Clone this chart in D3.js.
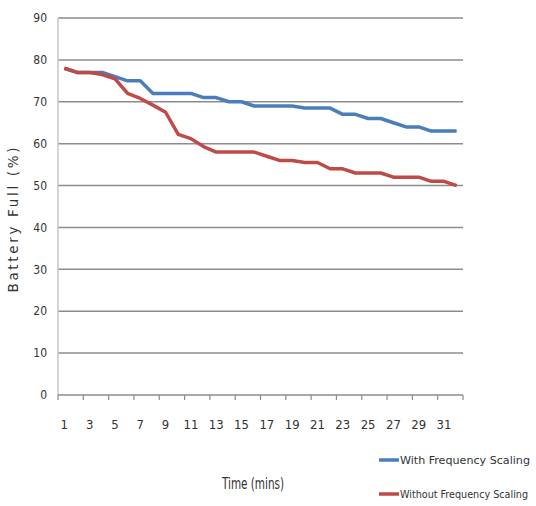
<!DOCTYPE html>
<html><head><meta charset="utf-8">
<script src="https://cdn.jsdelivr.net/npm/d3@7"></script>
<style>body{margin:0;background:#fff} text.n{font-stretch:condensed}</style>
</head><body>
<svg id="c" width="536" height="506"></svg>
<script>
const categories = d3.range(1, 33);
const withScaling = [78,77,77,77,76,75,75,72,72,72,72,71,71,70,70,69,69,69,69,68.5,68.5,68.5,67,67,66,66,65,64,64,63,63,63];
const withoutScaling = [78,77,77,76.5,75.5,72,70.8,69.2,67.5,62.2,61.2,59.3,58,58,58,58,57,56,56,55.5,55.5,54,54,53,53,53,52,52,52,51,51,50];
const yTicks = [0,10,20,30,40,50,60,70,80,90];
const xTickLabels = categories.filter(c => c % 2 === 1);
const seriesNames = ["With Frequency Scaling", "Without Frequency Scaling"];
const colors = ["#4a7ebb", "#be4b48"];

const svg = d3.select("#c");
const x = d3.scaleBand().domain(categories).range([58, 463]);
const y = d3.scaleLinear().domain([0, 90]).range([395, 18]);
const cx = c => x(c) + x.bandwidth() / 2;
const narrow = "'DejaVu Sans Condensed','DejaVu Sans',sans-serif";

// gridlines
svg.append("g").selectAll("line").data(yTicks.filter(t => t > 0)).join("line")
  .attr("x1", 58).attr("x2", 463).attr("y1", d => y(d)).attr("y2", d => y(d))
  .attr("stroke", "#8c8c8c").attr("stroke-width", 1.5);

// y axis line
svg.append("line").attr("x1", 58).attr("x2", 58).attr("y1", y(90)).attr("y2", y(0))
  .attr("stroke", "#c8c8c8").attr("stroke-width", 1.5);
// x axis line
svg.append("line").attr("x1", 58).attr("x2", 463).attr("y1", y(0)).attr("y2", y(0))
  .attr("stroke", "#8c8c8c").attr("stroke-width", 1.5);
// x ticks every 2 categories at boundaries
const tickPos = xTickLabels.map(c => x(c)).concat([x.range()[1]]);
svg.append("g").selectAll("line").data(tickPos).join("line")
  .attr("x1", d => d).attr("x2", d => d).attr("y1", y(0)).attr("y2", y(0) + 5)
  .attr("stroke", "#8c8c8c").attr("stroke-width", 1.2);

// y labels
svg.append("g").selectAll("text").data(yTicks).join("text").attr("class", "n")
  .attr("x", 47).attr("y", d => y(d)).attr("dy", "0.35em")
  .attr("text-anchor", "end").attr("font-family", narrow).attr("font-size", 12)
  .attr("fill", "#333").text(d => d);

// x labels
svg.append("g").selectAll("text").data(xTickLabels).join("text").attr("class", "n")
  .attr("x", d => cx(d)).attr("y", 424).attr("dy", "0.35em")
  .attr("text-anchor", "middle").attr("font-family", narrow).attr("font-size", 13)
  .attr("fill", "#333").text(d => d);

// axis titles
svg.append("text").attr("transform", "translate(18,220) rotate(-90)")
  .attr("text-anchor", "middle").attr("font-family", "'DejaVu Sans',sans-serif")
  .attr("font-size", 13.5).attr("fill", "#333")
  .attr("textLength", 145).attr("lengthAdjust", "spacing").text("Battery Full (%)");
svg.append("text").attr("class", "n").attr("x", 253).attr("y", 483).attr("dy", "0.35em")
  .attr("text-anchor", "middle").attr("font-family", narrow).attr("font-size", 16)
  .attr("fill", "#333").attr("textLength", 62).attr("lengthAdjust", "spacingAndGlyphs").text("Time (mins)");

// lines
const line = d3.line().x((d, i) => cx(categories[i])).y(d => y(d));
[withScaling, withoutScaling].forEach((s, i) => {
  svg.append("path").datum(s).attr("d", line).attr("fill", "none")
    .attr("stroke", colors[i]).attr("stroke-width", 3.5).attr("stroke-linejoin", "round");
});

// legend
const legY = [460, 494];
seriesNames.forEach((n, i) => {
  svg.append("line").attr("x1", 379).attr("x2", 399).attr("y1", legY[i]).attr("y2", legY[i])
    .attr("stroke", colors[i]).attr("stroke-width", 3.5);
  svg.append("text").attr("class", "n").attr("x", 400).attr("y", legY[i]).attr("dy", "0.35em")
    .attr("font-family", narrow).attr("font-size", 11).attr("fill", "#333")
    .attr("textLength", i === 0 ? 130 : 128).attr("lengthAdjust", "spacingAndGlyphs").text(n);
});
</script>
</body></html>
